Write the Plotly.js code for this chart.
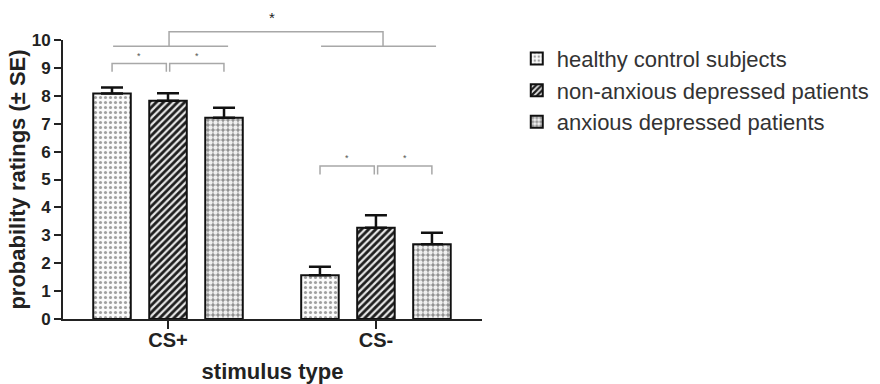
<!DOCTYPE html>
<html>
<head>
<meta charset="utf-8">
<script src="https://cdn.plot.ly/plotly-3.0.1.min.js"></script>
<style>html,body{margin:0;padding:0;background:#fff;}#chart{width:880px;height:384px;}</style>
</head>
<body>
<div id="chart"></div>
<script>
// ---- data ----
const categories = ["CS+", "CS-"];
const groupNames = ["healthy control subjects", "non-anxious depressed patients", "anxious depressed patients"];
const healthyMeans = [8.08, 1.57];
const healthySE = [0.22, 0.30];
const nonAnxiousMeans = [7.82, 3.27];
const nonAnxiousSE = [0.27, 0.45];
const anxiousMeans = [7.21, 2.68];
const anxiousSE = [0.36, 0.41];
const yTickVals = [0, 1, 2, 3, 4, 5, 6, 7, 8, 9, 10];

// significance brackets: [category index, bar a, bar b, level]
const pairBrackets = [[0, 0, 1, 9.16], [0, 1, 2, 9.16], [1, 0, 1, 5.48], [1, 1, 2, 5.48]];
const mainLevel = 9.78, topLevel = 10.30, starTop = 10.9;

// ---- styling ----
const Y_MAX = 10;
const FONT = "Liberation Sans, Arial, sans-serif";
const barOffset = 0.269; // slot width in category units
const yp = v => v / Y_MAX;   // data value -> paper y (y range starts at 0)

const patterns = [
  {shape: ".", fgcolor: "#a0a0a0", bgcolor: "#fbfbfb", size: 5, solidity: 0.3},
  {shape: "/", fgcolor: "#1e1e1e", bgcolor: "#e6e6e6", size: 5, solidity: 0.55},
  {shape: ".", fgcolor: "#f0f0f0", bgcolor: "#8f8f8f", size: 5, solidity: 0.6}
];
const meansList = [healthyMeans, nonAnxiousMeans, anxiousMeans];
const seList = [healthySE, nonAnxiousSE, anxiousSE];

const traces = meansList.map((m, i) => ({
  type: "bar",
  name: groupNames[i],
  x: categories,
  y: m,
  marker: {color: patterns[i].bgcolor, pattern: patterns[i], line: {color: "#111", width: 2}},
  error_y: {type: "data", array: seList[i], arrayminus: m.map(() => 0), symmetric: false,
            color: "#111", thickness: 2.5, width: 11},
  hoverinfo: "skip"
}));

const shapes = [];
const annotations = [];
const lineStyle = {color: "#a8a8a8", width: 1.5};
const legDrop = 0.3;
pairBrackets.forEach(([c, a, b, lvl]) => {
  const gap = 0.008;
  const xa = c + (a - 1) * barOffset + (a === 1 ? gap : 0);
  const xb = c + (b - 1) * barOffset - (b === 1 ? gap : 0);
  shapes.push({type: "path", xref: "x", yref: "paper",
    path: `M${xa},${yp(lvl - legDrop)} L${xa},${yp(lvl)} L${xb},${yp(lvl)} L${xb},${yp(lvl - legDrop)}`,
    line: lineStyle});
  annotations.push({x: (xa + xb) / 2, y: yp(lvl + 0.28), xref: "x", yref: "paper", text: "*",
    showarrow: false, font: {family: FONT, size: 9, color: "#555"}, yanchor: "middle"});
});
// group-level lines
[0, 1].forEach(c => {
  shapes.push({type: "line", xref: "x", yref: "paper", x0: c - barOffset + 0.005, x1: c + barOffset + 0.02,
    y0: yp(mainLevel), y1: yp(mainLevel), line: lineStyle});
});
shapes.push({type: "path", xref: "x", yref: "paper",
  path: `M0.005,${yp(mainLevel)} L0.005,${yp(topLevel)} L1.034,${yp(topLevel)} L1.034,${yp(mainLevel)}`,
  line: lineStyle});
annotations.push({x: 0.5, y: yp(starTop - 0.08), xref: "x", yref: "paper", text: "*",
  showarrow: false, font: {family: FONT, size: 15, color: "#222"}, yanchor: "middle"});

const layout = {
  width: 880, height: 384,
  margin: {l: 63, r: 398, t: 40, b: 65, autoexpand: false},
  paper_bgcolor: "#ffffff", plot_bgcolor: "#ffffff",
  barmode: "group", bargap: 0.192, bargroupgap: 0.33,
  showlegend: true,
  legend: {x: 1.083, xanchor: "left", y: 1.008, yanchor: "top",
           font: {family: FONT, size: 22, color: "#333"}, bgcolor: "rgba(0,0,0,0)"},
  xaxis: {
    range: [-0.505, 1.51], showline: true, linecolor: "#222", linewidth: 2,
    ticks: "outside", ticklen: 8, tickwidth: 2, tickcolor: "#222", ticklabelstandoff: -6,
    tickfont: {family: FONT, size: 20, color: "#222", weight: "bold"},
    showgrid: false, zeroline: false, fixedrange: true,
    title: {text: "stimulus type", font: {family: FONT, size: 22, color: "#222", weight: "bold"}, standoff: 14}
  },
  yaxis: {
    range: [0, Y_MAX], tickvals: yTickVals, showline: true, linecolor: "#222", linewidth: 2,
    ticks: "outside", ticklen: 7, tickwidth: 2, tickcolor: "#222",
    tickfont: {family: FONT, size: 17, color: "#222", weight: "bold"},
    showgrid: false, zeroline: false, fixedrange: true,
    title: {text: "probability ratings (± SE)", font: {family: FONT, size: 22, color: "#222", weight: "bold"}, standoff: 0}
  },
  shapes: shapes,
  annotations: annotations,
  font: {family: FONT}
};

Plotly.newPlot("chart", traces, layout, {displayModeBar: false, staticPlot: true});
</script>
</body>
</html>
